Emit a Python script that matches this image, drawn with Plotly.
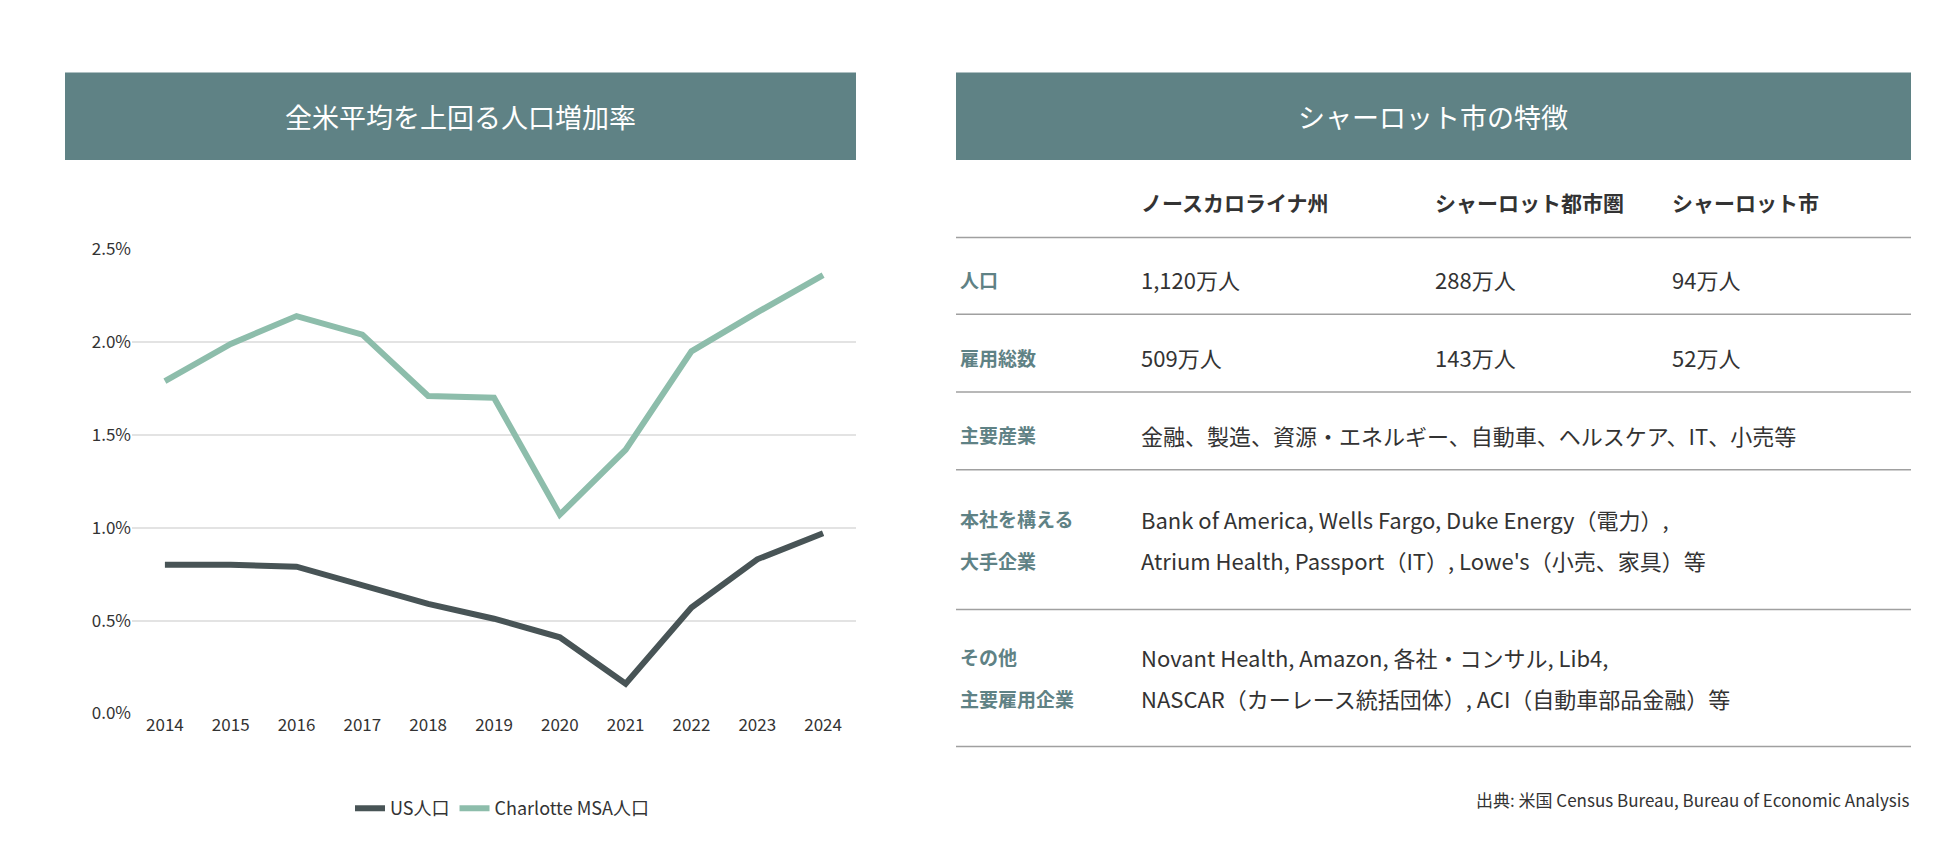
import plotly.graph_objects as go

years = list(range(2014, 2025))
us_pop = [0.80, 0.80, 0.79, 0.69, 0.59, 0.51, 0.41, 0.16, 0.57, 0.83, 0.97]
clt_pop = [1.79, 1.99, 2.14, 2.04, 1.71, 1.70, 1.07, 1.42, 1.95, 2.16, 2.36]
y_ticks = [0, 0.5, 1.0, 1.5, 2.0, 2.5]
y_labels = ["0.0%", "0.5%", "1.0%", "1.5%", "2.0%", "2.5%"]

col_heads = ["ノースカロライナ州", "シャーロット都市圏", "シャーロット市"]
rows = [
    (["人口"], [["1,120万人"], ["288万人"], ["94万人"]]),
    (["雇用総数"], [["509万人"], ["143万人"], ["52万人"]]),
    (["主要産業"], [["金融、製造、資源・エネルギー、自動車、ヘルスケア、IT、小売等"]]),
    (["本社を構える", "大手企業"], [["Bank of America, Wells Fargo, Duke Energy（電力）,",
                                  "Atrium Health, Passport（IT）, Lowe's（小売、家具）等"]]),
    (["その他", "主要雇用企業"], [["Novant Health, Amazon, 各社・コンサル, Lib4,",
                                 "NASCAR（カーレース統括団体）, ACI（自動車部品金融）等"]]),
]

W, H = 1950, 864
FONT = "Noto Sans CJK JP"
TEAL = "#5f8285"
px = lambda x: x / W
py = lambda y: 1 - y / H

fig = go.Figure()
fig.add_trace(go.Scatter(x=years, y=us_pop, name="US人口", mode="lines",
                         line=dict(color="#485456", width=6), cliponaxis=False))
fig.add_trace(go.Scatter(x=years, y=clt_pop, name="Charlotte MSA人口", mode="lines",
                         line=dict(color="#8dbdab", width=6), cliponaxis=False))

shapes = [
    dict(type="rect", xref="paper", yref="paper", x0=px(57), x1=px(848), y0=py(142), y1=py(52),
         fillcolor=TEAL, line_width=0),
    dict(type="rect", xref="paper", yref="paper", x0=px(948), x1=px(1903), y0=py(142), y1=py(52),
         fillcolor=TEAL, line_width=0),
]
for yl in [222, 301, 381, 461, 605, 746]:
    shapes.append(dict(type="line", xref="paper", yref="paper", x0=px(948), x1=px(1903),
                       y0=py(yl), y1=py(yl), line=dict(color="#a0a0a0", width=1.5)))

ann = [
    dict(text="全米平均を上回る人口増加率", x=px(452), y=py(97), xanchor="center",
         font=dict(size=27, color="white")),
    dict(text="シャーロット市の特徴", x=px(1425), y=py(97), xanchor="center",
         font=dict(size=27, color="white")),
]
col_x = [1131, 1425, 1662]
for cx, t in zip(col_x, col_heads):
    ann.append(dict(text="<b>" + t + "</b>", x=px(cx), y=py(185), xanchor="left",
                    font=dict(size=21, color="#333")))
row_y = [265, 345, 425, 533, 675]
gap = 43
for (labs, cols), ry in zip(rows, row_y):
    y0 = ry - gap / 2 * (len(labs) - 1)
    for i, lab in enumerate(labs):
        ann.append(dict(text="<b>" + lab + "</b>", x=px(950), y=py(y0 + i * gap), xanchor="left",
                        font=dict(size=19, color=TEAL)))
    for cx, lines in zip(col_x, cols):
        y0 = ry - gap / 2 * (len(lines) - 1)
        for i, v in enumerate(lines):
            ann.append(dict(text=v, x=px(cx), y=py(y0 + i * gap), xanchor="left",
                            font=dict(size=22, color="#333")))
ann.append(dict(text="出典: 米国 Census Bureau, Bureau of Economic Analysis", x=px(1903), y=py(801),
                xanchor="right", font=dict(size=17, color="#333")))
for a in ann:
    a.update(xref="paper", yref="paper", showarrow=False, yanchor="middle")
    a["font"]["family"] = FONT

fig.update_layout(
    width=W, height=H, margin=dict(l=0, r=0, t=0, b=0),
    plot_bgcolor="white", paper_bgcolor="white",
    font=dict(family=FONT, color="#333", size=17),
    shapes=shapes, annotations=ann,
    legend=dict(orientation="h", x=px(494), xanchor="center", y=py(810), yanchor="middle",
                font=dict(size=18)),
    xaxis=dict(domain=[px(124), px(848)], range=[2013.5, 2024.5], tickvals=years,
               showgrid=False, zeroline=False, showline=False, ticks=""),
    yaxis=dict(domain=[py(712), py(234)], range=[0, 2.5], tickvals=y_ticks, ticktext=y_labels,
               gridcolor="#e3e3e3", gridwidth=1.5, zeroline=False, showline=False),
)
fig.write_html("out.html")
